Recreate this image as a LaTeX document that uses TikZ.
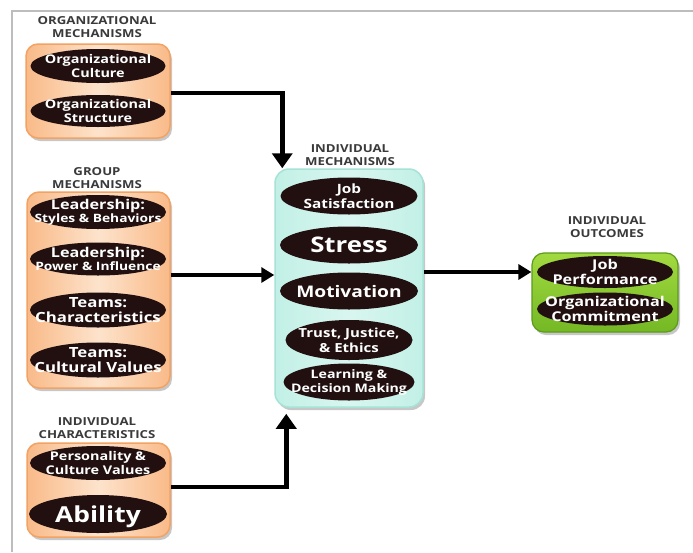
\documentclass[tikz,border=0pt]{standalone}
\usepackage{fontspec}
\setmainfont{Open Sans}[FakeStretch=1.2]
\usetikzlibrary{arrows.meta,shadows,shapes.geometric}
\definecolor{orgedge}{HTML}{F2A263}
\definecolor{orgmid}{HTML}{FDE3CC}
\definecolor{orgside}{HTML}{F9BA88}
\definecolor{tealedge}{HTML}{A6E3D6}
\definecolor{tealfill}{HTML}{D8F6EF}
\definecolor{tealside}{HTML}{C2F0E6}
\definecolor{grnedge}{HTML}{5C9A1C}
\definecolor{grntop}{HTML}{A2DA40}
\definecolor{grnbot}{HTML}{74B824}
\definecolor{ellfill}{HTML}{221010}
\definecolor{headgray}{HTML}{3A3A3A}
\definecolor{framegray}{HTML}{BDBDBD}
\begin{document}
\begin{tikzpicture}[x=1pt,y=-1pt,
  shadowed/.style={drop shadow={shadow xshift=2pt,shadow yshift=-3pt,opacity=0.22,fill=black}},
  orangebox/.style={shadowed,draw=orgedge,line width=1.5pt,rounded corners=12pt,
     left color=orgside,right color=orgside,middle color=orgmid,inner sep=0},
  tealbox/.style={shadowed,draw=tealedge,line width=1.5pt,rounded corners=14pt,
     left color=tealside,right color=tealside,middle color=tealfill,inner sep=0},
  greenbox/.style={shadowed,draw=grnedge,line width=1.2pt,rounded corners=12pt,
     top color=grntop,bottom color=grnbot,inner sep=0},
  ell/.style={ellipse,fill=ellfill,inner sep=0},
  lt/.style 2 args={text=white,align=center,inner sep=0,font=\bfseries\fontsize{#1}{#2}\selectfont},
  hd/.style={text=headgray,font=\bfseries\fontsize{11}{13}\selectfont,align=center,inner sep=0},
  arr/.style={line width=4.5pt,-{Triangle[width=20pt,length=15pt]}},
  harr/.style={line width=3.5pt,-{Triangle[width=15pt,length=13pt]}}
]
\useasboundingbox (0,0) rectangle (693,552);
\fill[white] (0,0) rectangle (693,552);
\draw[framegray,line width=1.5pt] (12,552) -- (12,11) -- (693,11);

% headers
\node[hd] (hOrg) at (97,27) {ORGANIZATIONAL\\MECHANISMS};
\node[hd] (hGrp) at (97,178) {GROUP\\MECHANISMS};
\node[hd] (hChar) at (97,428) {INDIVIDUAL\\CHARACTERISTICS};
\node[hd] (hInd) at (350,155) {INDIVIDUAL\\MECHANISMS};
\node[hd] (hOut) at (607,227) {INDIVIDUAL\\OUTCOMES};

% boxes
\node[orangebox,minimum width=144pt,minimum height=94pt] (ob) at (98,91) {};
\node[orangebox,minimum width=143pt,minimum height=196pt] (gb) at (98.5,290) {};
\node[orangebox,minimum width=143pt,minimum height=94pt] (cb) at (98.5,490) {};
\node[tealbox,minimum width=148pt,minimum height=238pt] (ib) at (349,288) {};
\node[greenbox,minimum width=146pt,minimum height=79pt] (gr) at (605,292.5) {};

% organizational
\node[ell,minimum width=135pt,minimum height=34pt,
  label={[lt={12}{13.5}]center:{Organizational\\Culture}}] (e1) at (98,66) {};
\node[ell,minimum width=135pt,minimum height=32pt,
  label={[lt={12}{13.5}]center:{Organizational\\Structure}}] (e2) at (98,111) {};

% group
\node[ell,minimum width=136pt,minimum height=34pt,
  label={[lt={13.5}{13.5}]center:{Leadership:\\\fontsize{11.5}{12.5}\selectfont Styles \& Behaviors}}] (e3) at (98,212) {};
\node[ell,minimum width=136pt,minimum height=33pt,
  label={[lt={13.5}{13.5}]center:{Leadership:\\\fontsize{11.5}{12.5}\selectfont Power \& Influence}}] (e4) at (98,259) {};
\node[ell,minimum width=136pt,minimum height=35pt,
  label={[lt={14}{15}]center:{Teams:\\Characteristics}}] (e5) at (98,310) {};
\node[ell,minimum width=136pt,minimum height=35pt,
  label={[lt={14}{15}]center:{Teams:\\Cultural Values}}] (e6) at (98,360) {};

% individual characteristics
\node[ell,minimum width=136pt,minimum height=34pt,
  label={[lt={12}{13.5}]center:{Personality \&\\Culture Values}}] (e7) at (98,463) {};
\node[ell,minimum width=138pt,minimum height=38pt,
  label={[lt={22}{23},yshift=-3pt]center:{Ability}}] (e8) at (98,514) {};

% individual mechanisms
\node[ell,minimum width=137pt,minimum height=37pt,
  label={[lt={12.8}{14.5}]center:{Job\\Satisfaction}}] (m1) at (349,196) {};
\node[ell,minimum width=138pt,minimum height=37pt,
  label={[lt={21.5}{22}]center:{Stress}}] (m2) at (349,245) {};
\node[ell,minimum width=138pt,minimum height=37pt,
  label={[lt={16}{18}]center:{Motivation}}] (m3) at (349,291) {};
\node[ell,minimum width=127pt,minimum height=40pt,
  label={[lt={12.5}{15}]center:{Trust, Justice,\\\& Ethics}}] (m4) at (349,340) {};
\node[ell,minimum width=131pt,minimum height=37pt,
  label={[lt={11.8}{14}]center:{Learning \&\\Decision Making}}] (m5) at (349,382) {};

% outcomes
\node[ell,minimum width=136pt,minimum height=32pt,
  label={[lt={13.5}{14.5}]center:{Job\\Performance}}] (o1) at (605,272) {};
\node[ell,minimum width=136pt,minimum height=33pt,
  label={[lt={13.5}{14.5}]center:{Organizational\\Commitment}}] (o2) at (605,309) {};

% connectors
\draw[arr] ([yshift=-2pt]ob.east) -| ([xshift=8pt]ib.north west);
\draw[arr] ([yshift=3pt]cb.east) -| ([xshift=12pt,yshift=-6pt]ib.south west);
\draw[harr] ([yshift=15pt]gb.east) -- ([yshift=15pt]gb.east -| ib.west);
\draw[harr] ([yshift=16pt]ib.east) -- ([yshift=16pt]ib.east -| gr.west);
\end{tikzpicture}
\end{document}
